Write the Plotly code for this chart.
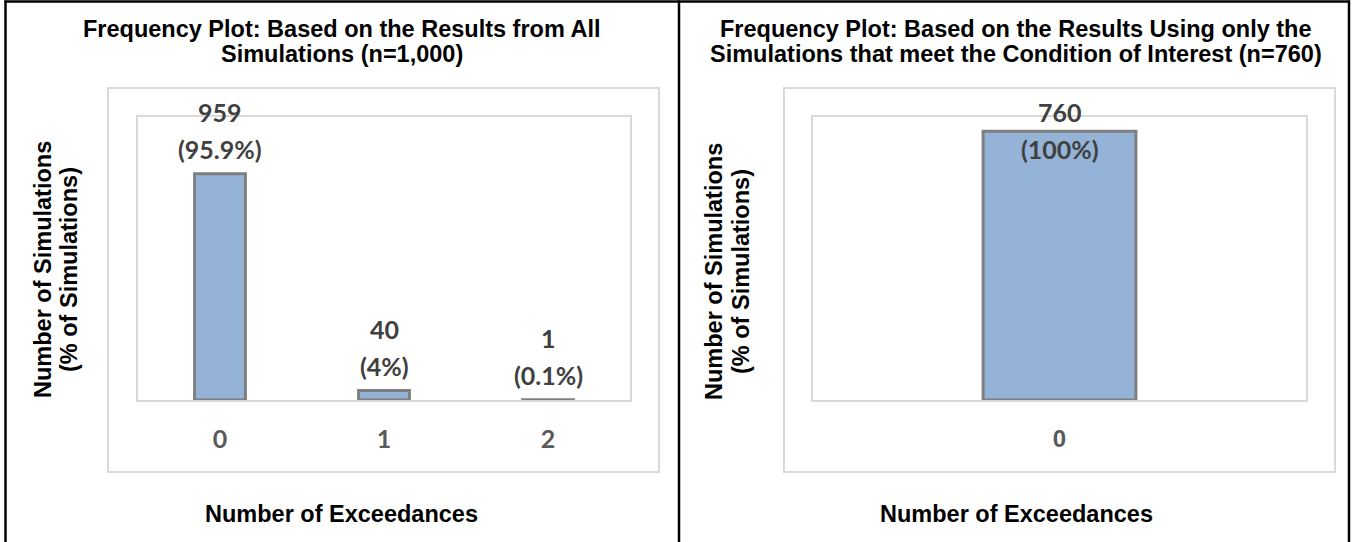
import plotly.graph_objects as go

# ---------------- data ----------------
left_categories = [0, 1, 2]
left_counts = [959, 40, 1]
left_total = 1000
left_ymax = 1200

right_categories = [0]
right_counts = [760]
right_total = 760
right_ymax = 800

left_title = ["Frequency Plot: Based on the Results from All", "Simulations (n=1,000)"]
right_title = ["Frequency Plot: Based on the Results Using only the",
               "Simulations that meet the Condition of Interest (n=760)"]
y_title = ["Number of Simulations", "(% of Simulations)"]
x_title = "Number of Exceedances"

# ---------------- layout constants ----------------
W, H = 1354, 542
PLOT_TOP, PLOT_BOTTOM = 117, 400
PLOT_H = PLOT_BOTTOM - PLOT_TOP
LEFT_X = (138, 630)
RIGHT_X = (813, 1306)

FILL = "#95B3D7"
EDGE = "#7F7F7F"
BOX = "#D9D9D9"
LABEL_COLOR = "#404040"
TICK_COLOR = "#595959"
ARIAL = "Liberation Sans, Arial, sans-serif"
CALIBRI = "Lato, Carlito, Calibri, sans-serif"


def px(x):
    return x / W


def py(y):
    return 1 - y / H


fig = go.Figure()

fig.add_trace(go.Bar(
    x=left_categories, y=left_counts, width=0.31,
    marker=dict(color=FILL, line=dict(color=EDGE, width=3)),
    xaxis="x", yaxis="y", cliponaxis=False, hoverinfo="skip"))
fig.add_trace(go.Bar(
    x=right_categories, y=right_counts, width=0.31,
    marker=dict(color=FILL, line=dict(color=EDGE, width=3)),
    xaxis="x2", yaxis="y2", cliponaxis=False, hoverinfo="skip"))

axis_common = dict(showgrid=False, zeroline=False, showline=True, mirror=True,
                   linecolor=BOX, linewidth=2, ticks="", fixedrange=True,
                   layer="below traces")

annotations = []


def add_labels(cats, counts, total, ymax, xref, yref):
    for c, v in zip(cats, counts):
        pct = v / total * 100
        pct_txt = f"({round(pct, 1):g}%)"
        top_px = v / ymax * PLOT_H
        l2 = top_px + 25
        l1 = top_px + 62
        max_l1 = PLOT_H + 5
        if l1 > max_l1:
            d = l1 - max_l1
            l1 -= d
            l2 -= d
        for txt, pos in ((f"{v}", l1), (pct_txt, l2)):
            annotations.append(dict(
                x=c, y=v, xref=xref, yref=yref, yshift=pos - top_px,
                text=txt, showarrow=False, xanchor="center", yanchor="middle",
                font=dict(family=CALIBRI, size=25, color=LABEL_COLOR, weight="bold")))


add_labels(left_categories, left_counts, left_total, left_ymax, "x", "y")
add_labels(right_categories, right_counts, right_total, right_ymax, "x2", "y2")


def text(xc, yc, t, angle=0, size=23.5):
    annotations.append(dict(
        x=px(xc), y=py(yc), xref="paper", yref="paper", text=t, showarrow=False,
        xanchor="center", yanchor="middle", textangle=angle,
        font=dict(family=ARIAL, size=size, color="black", weight="bold")))


# titles
text(341.5, 28.5, left_title[0])
text(341.5, 53.5, left_title[1])
text(1016, 28.5, right_title[0])
text(1016, 53.5, right_title[1])
# y axis titles
text(43, 270, y_title[0], angle=-90)
text(69, 270, y_title[1], angle=-90)
text(714, 272, y_title[0], angle=-90)
text(741, 272, y_title[1], angle=-90)
# x axis titles
text(341.5, 513.5, x_title)
text(1016, 513.5, x_title)

shapes = []
# outer chart-area boxes
for (x0, x1) in ((108, 659), (784, 1335)):
    shapes.append(dict(type="rect", xref="paper", yref="paper",
                       x0=px(x0), x1=px(x1), y0=py(472), y1=py(88),
                       line=dict(color=BOX, width=2), layer="below"))
# black panel borders
for xl in (5.5, 679, 1349):
    shapes.append(dict(type="line", xref="paper", yref="paper",
                       x0=px(xl), x1=px(xl), y0=0, y1=py(0.5),
                       line=dict(color="black", width=2.5)))
shapes.append(dict(type="line", xref="paper", yref="paper",
                   x0=px(4.5), x1=px(1350), y0=py(1.5), y1=py(1.5),
                   line=dict(color="black", width=2.5)))

fig.update_layout(
    width=W, height=H, margin=dict(l=0, r=0, t=0, b=0, pad=0),
    paper_bgcolor="white", plot_bgcolor="white", showlegend=False,
    xaxis=dict(domain=[px(LEFT_X[0]), px(LEFT_X[1])], anchor="y",
               range=[-0.5, len(left_categories) - 0.5],
               tickvals=left_categories, ticktext=[str(c) for c in left_categories],
               tickfont=dict(family=CALIBRI, size=25, color=TICK_COLOR, weight="bold"),
               ticklabelstandoff=16, **axis_common),
    yaxis=dict(domain=[py(PLOT_BOTTOM), py(PLOT_TOP)], anchor="x",
               range=[0, left_ymax], showticklabels=False, **axis_common),
    xaxis2=dict(domain=[px(RIGHT_X[0]), px(RIGHT_X[1])], anchor="y2",
                range=[-0.5, len(right_categories) - 0.5],
                tickvals=right_categories, ticktext=[str(c) for c in right_categories],
                tickfont=dict(family=ARIAL, size=24, color=TICK_COLOR, weight="bold"),
                ticklabelstandoff=16, **axis_common),
    yaxis2=dict(domain=[py(PLOT_BOTTOM), py(PLOT_TOP)], anchor="x2",
                range=[0, right_ymax], showticklabels=False, **axis_common),
    annotations=annotations,
    shapes=shapes,
)

fig.write_html("out.html", config={"displayModeBar": False})
